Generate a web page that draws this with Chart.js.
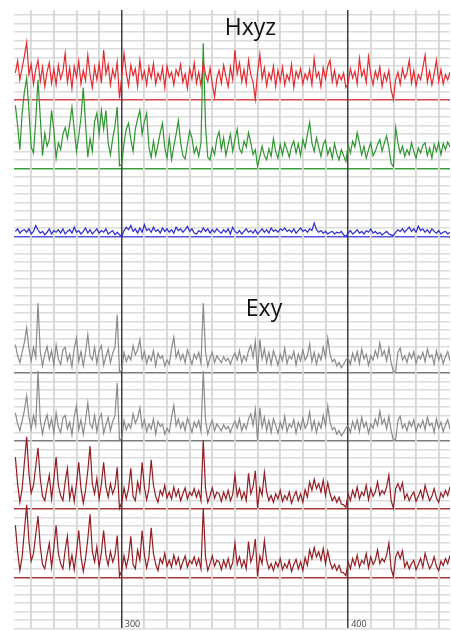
<!DOCTYPE html>
<html>
<head>
<meta charset="utf-8">
<style>
  html, body { margin: 0; padding: 0; background: #fff; }
  #wrap { width: 451px; height: 631px; }
</style>
</head>
<body>
<div id="wrap"><canvas id="traces" width="451" height="631"></canvas></div>
<script src="https://cdn.jsdelivr.net/npm/chart.js@4.4.1/dist/chart.umd.min.js"></script>
<script>
// first sample time and sample step of every channel
const sampleStart = 253;
const sampleStep = 1;

// channel amplitudes, one value per sample, in grid divisions above the channel baseline
const hx = [
  3.2, 4.6, 2.4, 3.8, 5.2, 6.8, 3.0, 4.2, 1.9, 3.6,
  4.7, 2.2, 3.9, 1.6, 3.3, 4.4, 2.0, 3.7, 1.8, 4.1,
  2.5, 3.4, 5.5, 2.1, 3.8, 1.4, 4.0, 2.7, 4.6, 1.9,
  3.5, 2.3, 5.3, 3.0, 1.5, 3.9, 2.4, 4.3, 2.0, 5.9,
  3.1, 4.2, 1.8, 3.6, 2.6, 4.5, 0.2, 2.8, 5.5, 3.2,
  1.7, 4.1, 2.9, 3.7, 1.6, 4.7, 2.5, 3.4, 1.8, 3.9,
  2.6, 4.3, 1.9, 3.2, 2.4, 3.8, 1.5, 4.0, 2.7, 3.3,
  1.8, 3.6, 2.9, 4.2, 2.1, 3.1, 1.4, 3.7, 2.5, 4.4,
  2.0, 3.3, 1.7, 4.5, 3.0, 2.2, 3.8, 1.9, 0.4, 2.6,
  3.5, 2.0, 4.1, 2.8, 1.6, 3.9, 2.4, 5.9, 3.1, 4.4,
  2.2, 3.6, 1.9, 4.7, 3.0, 2.1, 0.1, 3.3, 5.4, 2.5,
  3.8, 1.7, 3.2, 2.4, 4.0, 1.6, 3.5, 2.2, 3.9, 1.8,
  3.0, 2.3, 4.2, 1.5, 3.4, 2.6, 3.7, 1.9, 3.1, 2.4,
  3.6, 1.8, 4.9, 2.7, 3.3, 1.6, 3.8, 2.5, 4.0, 4.7,
  2.2, 3.5, 1.8, 3.0, 2.4, 3.2, 1.5, 2.0, 3.7, 2.6,
  3.4, 1.9, 4.9, 2.8, 3.6, 2.1, 5.1, 3.0, 1.8, 3.4,
  2.5, 3.9, 1.6, 3.1, 2.3, 3.5, 1.2, 0.1, 2.4, 3.3,
  1.9, 3.7, 2.6, 3.2, 4.7, 2.0, 3.5, 1.7, 3.0, 2.4,
  3.8, 5.3, 2.1, 3.4, 1.8, 3.1, 4.7, 2.2, 3.6, 1.9,
  3.0, 2.4, 3.3
];
const hy = [
  7.4, 5.0, 2.2, 6.5, 9.0, 10.6, 6.8, 2.5, 1.8, 5.6,
  10.4, 6.0, 1.5, 4.1, 2.6, 3.4, 6.8, 4.5, 1.2, 3.0,
  2.2, 4.0, 4.8, 3.5, 5.2, 7.2, 4.6, 2.0, 3.8, 6.0,
  9.5, 5.2, 1.3, 3.5, 2.0, 5.5, 6.5, 4.0, 6.8, 4.6,
  6.8, 3.0, 1.6, 3.5, 5.0, 7.2, 0.3, 0.5, 3.0, 4.6,
  5.3, 3.4, 2.0, 4.6, 5.8, 6.8, 4.0, 5.5, 6.5, 2.5,
  1.3, 3.2, 1.5, 2.8, 4.2, 5.3, 2.4, 1.2, 3.6, 1.0,
  2.6, 4.0, 5.6, 3.0, 1.5, 1.1, 2.8, 4.4, 3.6, 1.8,
  2.5, 1.4, 3.0, 14.7, 5.0, 1.3, 1.0, 2.4, 1.6, 3.5,
  4.3, 2.2, 3.6, 1.5, 2.8, 4.0, 2.0, 3.4, 4.6, 2.3,
  1.8, 3.2, 2.5, 4.2, 3.0, 1.6, 2.2, 0.2, 1.4, 2.6,
  1.5, 1.0, 2.3, 1.4, 3.5, 2.0, 1.2, 2.8, 1.6, 3.0,
  2.2, 1.3, 2.6, 3.2, 1.8, 2.9, 1.5, 3.4, 2.4, 4.0,
  5.4, 3.0, 2.0, 3.6, 2.5, 1.4, 2.8, 3.3, 1.6, 2.4,
  1.2, 2.9, 1.7, 1.0, 2.2, 1.5, 0.8, 2.8, 1.8, 3.2,
  2.5, 4.2, 3.0, 1.6, 2.6, 1.2, 2.2, 3.0, 1.5, 2.0,
  2.8, 3.4, 2.0, 3.0, 3.8, 2.4, 0.6, 0.2, 4.8, 3.0,
  1.8, 2.6, 1.4, 2.2, 1.6, 3.0, 2.0, 1.2, 2.4, 1.8,
  2.7, 3.0, 1.5, 2.4, 1.2, 2.8, 2.0, 3.0, 1.6, 2.9,
  2.2, 3.1, 2.5
];
const hz = [
  0.6, 0.9, 0.4, 0.7, 0.8, 0.5, 0.9, 0.3, 0.6, 1.3,
  0.8, 0.4, 0.6, 0.2, 0.5, 0.9, 0.3, 0.7, 0.5, 0.8,
  0.4, 0.9, 0.3, 0.6, 0.8, 0.4, 1.1, 0.5, 0.7, 0.3,
  0.6, 1.0, 0.4, 0.8, 0.3, 0.6, 0.9, 0.4, 0.7, 0.5,
  0.9, 0.3, 0.5, 0.7, 0.2, 0.5, 0.2, 0.0, 0.7, 1.1,
  0.8, 1.3, 0.6, 0.9, 0.4, 1.0, 0.5, 1.4, 0.7, 0.9,
  0.5, 1.1, 0.6, 0.8, 0.4, 1.0, 0.6, 0.9, 0.5, 0.8,
  0.4, 1.1, 0.7, 0.9, 0.5, 0.8, 1.2, 0.6, 0.9, 0.4,
  0.3, 0.7, 0.5, 1.0, 0.6, 0.9, 0.4, 0.8, 0.5, 0.9,
  0.6, 0.4, 0.8, 0.5, 0.9, 0.3, 1.1, 0.6, 0.4, 0.7,
  0.3, 0.6, 0.9, 0.5, 0.7, 0.4, 0.8, 0.3, 0.6, 0.9,
  0.5, 0.8, 0.4, 1.0, 0.6, 0.8, 0.5, 0.9, 0.7, 1.0,
  0.6, 0.8, 0.5, 0.9, 0.4, 0.7, 1.0, 0.6, 0.8, 0.5,
  0.9, 0.7, 1.6, 0.8, 0.5, 0.7, 0.4, 0.6, 0.3, 0.5,
  0.6, 0.3, 0.5, 0.4, 0.6, 0.2, 0.0, 0.4, 0.7, 0.3,
  0.5, 0.8, 0.4, 0.6, 0.3, 0.7, 0.5, 0.9, 0.4, 0.6,
  0.3, 0.5, 0.2, 0.4, 0.6, 0.3, 0.2, 0.1, 0.5, 0.8,
  0.6, 0.9, 0.5, 0.8, 1.1, 0.6, 0.9, 0.5, 1.2, 0.7,
  0.9, 0.5, 0.8, 0.4, 0.9, 0.6, 0.4, 0.7, 0.3, 0.5,
  0.6, 0.3, 0.5
];
const ex1 = [
  3.3, 2.0, 1.2, 2.4, 3.6, 5.3, 2.8, 1.4, 3.0, 1.8,
  8.2, 2.5, 0.8, 2.2, 3.1, 1.5, 2.6, 0.9, 3.3, 1.6,
  1.0, 2.7, 3.0, 1.4, 2.2, 0.7, 2.9, 4.1, 1.3, 2.5,
  0.8, 2.4, 4.5, 2.0, 1.5, 3.0, 1.1, 2.6, 3.2, 0.9,
  1.9, 2.8, 1.2, 2.3, 3.0, 6.8, 0.1, 0.3, 2.4, 1.3,
  2.0, 1.5, 3.2, 2.1, 2.7, 3.9, 1.6, 2.5, 1.1, 2.0,
  1.4, 2.6, 0.8, 2.3, 1.7, 2.0, 0.8, 1.5, 1.0, 2.8,
  4.2, 1.8, 2.6, 1.5, 2.2, 1.2, 2.7, 1.9, 1.0, 2.2,
  1.6, 2.4, 1.1, 8.2, 2.5, 0.8, 1.8, 2.4, 1.2, 2.0,
  1.6, 1.2, 1.9, 1.4, 1.7, 1.0, 1.8, 2.3, 1.5, 2.6,
  1.2, 2.0, 1.4, 2.6, 3.2, 1.8, 3.7, 0.1, 3.9, 1.6,
  2.8, 1.2, 2.4, 1.0, 2.6, 1.8, 0.9, 2.2, 1.4, 2.9,
  1.1, 2.0, 1.6, 2.5, 0.9, 2.2, 1.4, 2.7, 1.5, 2.0,
  3.4, 1.3, 2.4, 1.0, 2.2, 1.5, 3.0, 1.8, 4.1, 2.2,
  1.3, 1.6, 0.8, 1.2, 0.6, 1.0, 1.5, 1.8, 1.0, 2.3,
  1.4, 2.5, 1.1, 2.8, 1.6, 2.2, 0.9, 2.0, 1.5, 2.6,
  1.8, 3.5, 2.0, 2.6, 1.4, 2.9, 1.2, 0.1, 0.2, 2.4,
  2.9, 1.5, 2.0, 1.2, 2.3, 1.7, 2.5, 1.1, 2.0, 1.6,
  2.4, 1.3, 2.8, 1.8, 2.1, 1.0, 2.6, 1.5, 2.2, 1.1,
  1.9, 2.5, 1.4
];
const ex2 = [
  3.3, 2.0, 1.2, 2.4, 3.6, 5.3, 2.8, 1.4, 3.0, 1.8,
  8.2, 2.5, 0.8, 2.2, 3.1, 1.5, 2.6, 0.9, 3.3, 1.6,
  1.0, 2.7, 3.0, 1.4, 2.2, 0.7, 2.9, 4.1, 1.3, 2.5,
  0.8, 2.4, 4.5, 2.0, 1.5, 3.0, 1.1, 2.6, 3.2, 0.9,
  1.9, 2.8, 1.2, 2.3, 3.0, 6.8, 0.1, 0.3, 2.4, 1.3,
  2.0, 1.5, 3.2, 2.1, 2.7, 3.9, 1.6, 2.5, 1.1, 2.0,
  1.4, 2.6, 0.8, 2.3, 1.7, 2.0, 0.8, 1.5, 1.0, 2.8,
  4.2, 1.8, 2.6, 1.5, 2.2, 1.2, 2.7, 1.9, 1.0, 2.2,
  1.6, 2.4, 1.1, 8.2, 2.5, 0.8, 1.8, 2.4, 1.2, 2.0,
  1.6, 1.2, 1.9, 1.4, 1.7, 1.0, 1.8, 2.3, 1.5, 2.6,
  1.2, 2.0, 1.4, 2.6, 3.2, 1.8, 3.7, 0.1, 3.9, 1.6,
  2.8, 1.2, 2.4, 1.0, 2.6, 1.8, 0.9, 2.2, 1.4, 2.9,
  1.1, 2.0, 1.6, 2.5, 0.9, 2.2, 1.4, 2.7, 1.5, 2.0,
  3.4, 1.3, 2.4, 1.0, 2.2, 1.5, 3.0, 1.8, 4.1, 2.2,
  1.3, 1.6, 0.8, 1.2, 0.6, 1.0, 1.5, 1.8, 1.0, 2.3,
  1.4, 2.5, 1.1, 2.8, 1.6, 2.2, 0.9, 2.0, 1.5, 2.6,
  1.8, 3.5, 2.0, 2.6, 1.4, 2.9, 1.2, 0.1, 0.2, 2.4,
  2.9, 1.5, 2.0, 1.2, 2.3, 1.7, 2.5, 1.1, 2.0, 1.6,
  2.4, 1.3, 2.8, 1.8, 2.1, 1.0, 2.6, 1.5, 2.2, 1.1,
  1.9, 2.5, 1.4
];
const ey1 = [
  6.1, 3.0, 0.8, 2.4, 5.5, 8.5, 4.2, 1.9, 2.8, 5.0,
  7.2, 3.6, 1.5, 1.0, 2.6, 4.0, 1.2, 3.5, 6.1, 2.8,
  1.6, 1.0, 3.2, 4.8, 1.2, 2.6, 0.9, 3.0, 5.5, 2.4,
  0.7, 2.2, 4.5, 7.4, 3.0, 1.8, 3.6, 1.2, 2.9, 5.5,
  2.6, 1.4, 3.0, 1.8, 2.6, 4.9, 0.1, 0.8, 2.5, 1.2,
  2.4, 4.8, 1.5, 1.0, 3.2, 2.0, 5.5, 2.6, 1.1, 2.4,
  5.8, 2.8, 1.5, 0.8, 2.2, 1.6, 2.8, 1.3, 2.0, 1.2,
  2.6, 1.5, 2.3, 1.0, 1.8, 2.5, 1.2, 2.0, 1.6, 2.4,
  1.4, 2.2, 1.0, 8.1, 2.4, 0.8, 1.6, 2.5, 1.3, 2.0,
  1.8, 0.9, 2.0, 1.2, 2.2, 1.0, 1.7, 4.0, 1.5, 2.4,
  1.2, 2.0, 1.0, 4.2, 1.8, 2.6, 4.5, 0.1, 2.5, 1.6,
  4.3, 2.0, 1.0, 1.6, 0.8, 1.8, 1.2, 2.2, 0.9, 1.6,
  1.1, 2.0, 0.7, 1.5, 2.1, 1.0, 1.8, 0.8, 2.3, 1.4,
  3.2, 2.2, 3.5, 2.4, 3.0, 2.0, 3.4, 1.6, 3.1, 1.8,
  1.0, 1.5, 0.8, 1.4, 0.6, 0.5, 0.2, 1.8, 1.0, 2.2,
  1.4, 2.6, 1.2, 2.0, 1.6, 2.8, 1.1, 2.4, 1.5, 2.0,
  3.2, 1.6, 2.2, 1.8, 2.6, 4.0, 1.0, 0.1, 2.4, 3.0,
  2.2, 3.1, 1.2, 1.8, 1.0, 1.6, 2.0, 0.9, 1.5, 2.2,
  1.2, 2.8, 1.8, 1.0, 1.5, 2.4, 1.3, 0.8, 1.9, 1.4,
  2.2, 1.6, 2.6
];
const ey2 = [
  6.1, 3.0, 0.8, 2.4, 5.5, 8.5, 4.2, 1.9, 2.8, 5.0,
  7.2, 3.6, 1.5, 1.0, 2.6, 4.0, 1.2, 3.5, 6.1, 2.8,
  1.6, 1.0, 3.2, 4.8, 1.2, 2.6, 0.9, 3.0, 5.5, 2.4,
  0.7, 2.2, 4.5, 7.4, 3.0, 1.8, 3.6, 1.2, 2.9, 5.5,
  2.6, 1.4, 3.0, 1.8, 2.6, 4.9, 0.1, 0.8, 2.5, 1.2,
  2.4, 4.8, 1.5, 1.0, 3.2, 2.0, 5.5, 2.6, 1.1, 2.4,
  5.8, 2.8, 1.5, 0.8, 2.2, 1.6, 2.8, 1.3, 2.0, 1.2,
  2.6, 1.5, 2.3, 1.0, 1.8, 2.5, 1.2, 2.0, 1.6, 2.4,
  1.4, 2.2, 1.0, 8.1, 2.4, 0.8, 1.6, 2.5, 1.3, 2.0,
  1.8, 0.9, 2.0, 1.2, 2.2, 1.0, 1.7, 4.0, 1.5, 2.4,
  1.2, 2.0, 1.0, 4.2, 1.8, 2.6, 4.5, 0.1, 2.5, 1.6,
  4.3, 2.0, 1.0, 1.6, 0.8, 1.8, 1.2, 2.2, 0.9, 1.6,
  1.1, 2.0, 0.7, 1.5, 2.1, 1.0, 1.8, 0.8, 2.3, 1.4,
  3.2, 2.2, 3.5, 2.4, 3.0, 2.0, 3.4, 1.6, 3.1, 1.8,
  1.0, 1.5, 0.8, 1.4, 0.6, 0.5, 0.2, 1.8, 1.0, 2.2,
  1.4, 2.6, 1.2, 2.0, 1.6, 2.8, 1.1, 2.4, 1.5, 2.0,
  3.2, 1.6, 2.2, 1.8, 2.6, 4.0, 1.0, 0.1, 2.4, 3.0,
  2.2, 3.1, 1.2, 1.8, 1.0, 1.6, 2.0, 0.9, 1.5, 2.2,
  1.2, 2.8, 1.8, 1.0, 1.5, 2.4, 1.3, 0.8, 1.9, 1.4,
  2.2, 1.6, 2.6
];

const channelNames = ['Hx', 'Hy', 'Hz', 'Ex', 'Ex', 'Ey', 'Ey'];
const channelValues = [hx, hy, hz, ex1, ex2, ey1, ey2];
// baseline of each channel on the y grid (grid line index counted from the bottom)
const channelBaselines = [62, 54, 46, 30, 22, 14, 6];
const channelColors = ['#e42a2f', '#2f962f', '#2b2bcf', '#8a8a8a', '#8a8a8a', '#931d22', '#931d22'];
const baselineColors = ['#d8474b', '#3c9f3c', '#5555dd', '#7d7d7d', '#7d7d7d', '#a8383c', '#a8383c'];
const markedTimes = [300, 400];
const groupTitles = ['Hxyz', 'Exy'];

const datasets = channelValues.map((vals, c) => ({
  label: channelNames[c],
  data: vals.map((v, i) => ({ x: sampleStart + i * sampleStep, y: channelBaselines[c] + v })),
  borderColor: channelColors[c],
  borderWidth: 1.2,
  pointRadius: 0,
  tension: 0,
  fill: false
}));

// group titles and the time marks, written inside the plot
const textPlugin = {
  id: 'plotTexts',
  afterDatasetsDraw(chart) {
    const { ctx, scales } = chart;
    const spots = [[345.5, 69.6], [354.8, 36.7]];
    ctx.save();
    ctx.textAlign = 'left';
    ctx.textBaseline = 'alphabetic';
    ctx.font = '23px "Open Sans"';
    ctx.fillStyle = '#111';
    groupTitles.forEach((t, i) => {
      ctx.fillText(t, scales.x.getPixelForValue(spots[i][0]), scales.y.getPixelForValue(spots[i][1]));
    });
    ctx.font = '9px "Open Sans"';
    ctx.fillStyle = '#444';
    markedTimes.forEach((t) => {
      ctx.fillText(String(t), scales.x.getPixelForValue(t) + 3, scales.y.getPixelForValue(0) - 1.5);
    });
    ctx.restore();
  }
};

new Chart(document.getElementById('traces'), {
  type: 'line',
  data: { datasets },
  options: {
    responsive: false,
    animation: false,
    events: [],
    layout: { padding: { left: 14, top: 10, right: 1, bottom: 2.6 } },
    plugins: { legend: { display: false }, tooltip: { enabled: false } },
    scales: {
      x: {
        type: 'linear',
        min: 252.4,
        max: 445,
        border: { display: false },
        grid: {
          z: -1,
          drawTicks: false,
          color: (ctx) => markedTimes.includes(ctx.tick.value) ? '#3f3f3f' : '#d6d6d6',
          lineWidth: (ctx) => markedTimes.includes(ctx.tick.value) ? 1.5 : 1.8
        },
        ticks: { stepSize: 10, includeBounds: false, autoSkip: false, display: false },
        afterFit: (scale) => { scale.height = 0; }
      },
      y: {
        min: 0,
        max: 72.59,
        border: { display: false },
        grid: {
          z: -2,
          drawTicks: false,
          color: (ctx) => {
            const c = channelBaselines.indexOf(ctx.tick.value);
            return c >= 0 ? baselineColors[c] : '#dcdcdc';
          },
          lineWidth: (ctx) => channelBaselines.includes(ctx.tick.value) ? 1.5 : 1.6
        },
        ticks: { stepSize: 1, includeBounds: false, autoSkip: false, display: false },
        afterFit: (scale) => { scale.width = 0; }
      }
    }
  },
  plugins: [textPlugin]
});
</script>
</body>
</html>
